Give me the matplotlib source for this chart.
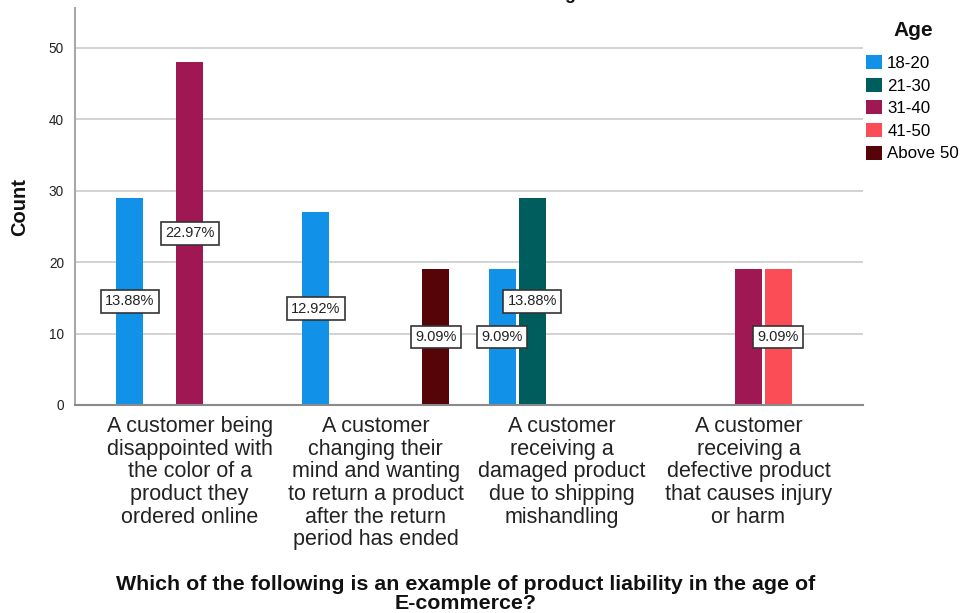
import matplotlib
matplotlib.use("Agg")
import matplotlib.pyplot as plt
from matplotlib.patches import Patch
import numpy as np

plt.rcParams['font.family'] = ['Liberation Sans', 'DejaVu Sans']

categories = [
    "A customer being\ndisappointed with\nthe color of a\nproduct they\nordered online",
    "A customer\nchanging their\nmind and wanting\nto return a product\nafter the return\nperiod has ended",
    "A customer\nreceiving a\ndamaged product\ndue to shipping\nmishandling",
    "A customer\nreceiving a\ndefective product\nthat causes injury\nor harm",
]
age_groups = ["18-20", "21-30", "31-40", "41-50", "Above 50"]
counts_18_20 = [29, 27, 19, 0]
counts_21_30 = [0, 0, 29, 0]
counts_31_40 = [48, 0, 0, 19]
counts_41_50 = [0, 0, 0, 19]
counts_above_50 = [0, 19, 0, 0]
colors = ["#1192e8", "#005d5d", "#9f1853", "#fa4d56", "#570408"]
# labels suppressed where they would collide with a neighbouring label
hidden_labels = [(3, "31-40")]

series = [counts_18_20, counts_21_30, counts_31_40, counts_41_50, counts_above_50]
total = sum(sum(s) for s in series)

fig = plt.figure(figsize=(9.6, 6.13), dpi=100)
ax = fig.add_axes([75 / 960, 1 - 405 / 613, 788 / 960, (405 - 8.3) / 613])

x = np.arange(len(categories))
slot = 0.161
width = 0.145

ax.set_axisbelow(True)
ax.yaxis.grid(True, color="#cfcfcf", linewidth=1.3)

for k, (name, vals, col) in enumerate(zip(age_groups, series, colors)):
    for i, v in enumerate(vals):
        if v == 0:
            continue
        xpos = x[i] + (k - 2) * slot
        ax.bar(xpos, v, width=width, color=col, edgecolor="none", zorder=2)
        if (i, name) in hidden_labels:
            continue
        pct = v / total * 100
        ax.text(xpos, v / 2, f"{pct:.2f}%", ha="center", va="center",
                fontsize=10.5, color="#222222", zorder=4,
                bbox=dict(boxstyle="square,pad=0.3", facecolor="white",
                          edgecolor="#333333", linewidth=1.2))

ax.set_xlim(-0.615, 3.615)
ax.set_ylim(0, 55.5)
ax.set_yticks([0, 10, 20, 30, 40, 50])
ax.tick_params(axis="y", length=0, pad=8, labelsize=9.8, labelcolor="#222222")
ax.tick_params(axis="x", length=0, pad=8)
ax.set_xticks(x)
ax.set_xticklabels(categories, fontsize=15.5, linespacing=1.1, color="#222222")

for side in ("top", "right"):
    ax.spines[side].set_visible(False)
ax.spines["left"].set_color("#a8a8a8")
ax.spines["left"].set_linewidth(1.5)
ax.spines["bottom"].set_color("#8a8a8a")
ax.spines["bottom"].set_linewidth(1.5)

ax.set_ylabel("Count", fontsize=14.5, fontweight="bold", color="#111111", labelpad=14)
fig.text(466 / 960, 1 - 609 / 613,
         "Which of the following is an example of product liability in the age of\nE-commerce?",
         ha="center", va="baseline", fontsize=15.4, fontweight="bold",
         linespacing=1.0, color="#111111")

fig.text(570 / 960, 1 + 1 / 613, "Age", ha="center", va="baseline",
         fontsize=13, fontweight="bold", color="#111111")

# legend: bold heading drawn separately, entries below it
fig.text(913 / 960, 1 - 30 / 613, "Age", ha="center", va="center",
         fontsize=15, fontweight="bold", color="#111111")
handles = [Patch(facecolor=c, edgecolor="none") for c in colors]
fig.legend(handles, age_groups, loc="upper left",
           bbox_to_anchor=(866 / 960, 1 - 55 / 613), frameon=False,
           borderpad=0, borderaxespad=0, fontsize=12.2,
           handlelength=0.95, handleheight=0.9, handletextpad=0.3,
           labelspacing=0.4)

fig.savefig("out.png", dpi=100)
